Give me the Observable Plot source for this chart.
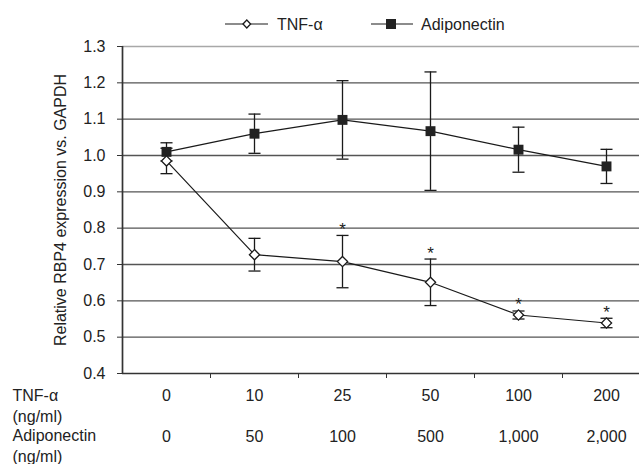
<!DOCTYPE html>
<html><head><meta charset="utf-8">
<script src="https://cdn.jsdelivr.net/npm/d3@7"></script>
<script src="https://cdn.jsdelivr.net/npm/@observablehq/plot@0.6"></script>
<style>
body{margin:0;background:#fff;font-family:"Liberation Sans",Arial,Helvetica,sans-serif;color:#222;}
#legend{display:block;}
</style></head><body>
<div id="legend"></div>
<div id="chart"></div>
<script>
// ---- data ----
const tnfDoses = ["0", "10", "25", "50", "100", "200"];
const adipoDoses = ["0", "50", "100", "500", "1,000", "2,000"];
const tnfMean = [0.985, 0.727, 0.708, 0.651, 0.561, 0.539];
const tnfErr = [0.035, 0.045, 0.072, 0.064, 0.011, 0.013];
const adipoMean = [1.010, 1.060, 1.098, 1.067, 1.016, 0.970];
const adipoErr = [0.025, 0.054, 0.108, 0.163, 0.062, 0.047];
const tnfSignificant = [false, false, true, true, true, true];
const yTicks = [0.4, 0.5, 0.6, 0.7, 0.8, 0.9, 1.0, 1.1, 1.2, 1.3];
const seriesNames = ["TNF-\u03b1", "Adiponectin"];

// ---- build table ----
const n = tnfDoses.length;
const rows = tnfDoses.map((d, i) => ({
  pos: i + 0.5,
  tnfDose: d, adipoDose: adipoDoses[i],
  tnf: tnfMean[i], tnfLo: tnfMean[i] - tnfErr[i], tnfHi: tnfMean[i] + tnfErr[i],
  adipo: adipoMean[i], adipoLo: adipoMean[i] - adipoErr[i], adipoHi: adipoMean[i] + adipoErr[i],
  sig: tnfSignificant[i]
}));

// error-bar cap symbol (horizontal stroke)
const capSymbol = {draw(ctx, size) { const w = Math.sqrt(size) / 2; ctx.moveTo(-w, 0); ctx.lineTo(w, 0); }};
const ink = "#1a1a1a";

// ---- legend (separate strip above the chart) ----
document.getElementById("legend").innerHTML =
  `<svg width="639" height="40" style="display:block" font-family='"Liberation Sans", Arial, sans-serif' font-size="16" fill="#222">` +
  `<line x1="225" x2="268" y1="24" y2="24" stroke="${ink}" stroke-width="1.2"/>` +
  `<path d="M243,24L246.8,20L250.6,24L246.8,28Z" fill="white" stroke="${ink}" stroke-width="1.3"/>` +
  `<text x="277" y="29.5">${seriesNames[0]}</text>` +
  `<line x1="371" x2="413" y1="24" y2="24" stroke="${ink}" stroke-width="1.2"/>` +
  `<rect x="386" y="19" width="10" height="10" fill="#222"/>` +
  `<text x="421" y="29.5">${seriesNames[1]}</text></svg>`;

// ---- chart ----
const chart = Plot.plot({
  width: 639, height: 424,
  marginTop: 6, marginBottom: 91, marginLeft: 122, marginRight: 0,
  x: {domain: [0, n], range: [122, 650]},
  y: {domain: [0.4, 1.3]},
  style: {fontFamily: '"Liberation Sans", Arial, Helvetica, sans-serif', fontSize: "16px", color: "#222", background: "white", overflow: "visible"},
  marks: [
    Plot.ruleY(yTicks.filter(v => v > 0.45 && v < 1.25), {stroke: "#555", strokeWidth: 1.4}),
    Plot.ruleY([1.3], {stroke: "#a8a8a8", strokeWidth: 1.4}),
    Plot.ruleY([0.4], {stroke: "#333", strokeWidth: 1.7}),
    Plot.ruleX([0], {stroke: "#333", strokeWidth: 1.7}),
    Plot.axisY({ticks: yTicks, tickSize: 5, tickPadding: 12, tickFormat: d3.format(".1f"), stroke: "#333", fontSize: 16,
      label: "Relative RBP4 expression vs. GAPDH", labelAnchor: "center", labelArrow: "none", labelOffset: 68}),
    Plot.axisX({ticks: d3.range(1, n + 1), tickSize: 5, tickFormat: () => "", label: null, stroke: "#333"}),
    // category labels
    Plot.text(rows, {x: "pos", text: "tnfDose", frameAnchor: "bottom", dy: 27, fontSize: 16}),
    Plot.text(rows, {x: "pos", text: "adipoDose", frameAnchor: "bottom", dy: 68, fontSize: 16}),
    Plot.text([`${seriesNames[0]}\n(ng/ml)`], {frameAnchor: "bottom-left", dx: -110, dy: 48.5, textAnchor: "start", lineHeight: 1.3, fontSize: 16}),
    Plot.text([`${seriesNames[1]}\n(ng/ml)`], {frameAnchor: "bottom-left", dx: -110, dy: 88.5, textAnchor: "start", lineHeight: 1.3, fontSize: 16}),
    // adiponectin series
    Plot.line(rows, {x: "pos", y: "adipo", stroke: ink, strokeWidth: 1.2}),
    Plot.ruleX(rows, {x: "pos", y1: "adipoLo", y2: "adipoHi", stroke: ink, strokeWidth: 1.3}),
    Plot.dot(rows, {x: "pos", y: "adipoLo", symbol: capSymbol, r: 6.8, stroke: ink, strokeWidth: 1.3}),
    Plot.dot(rows, {x: "pos", y: "adipoHi", symbol: capSymbol, r: 6.8, stroke: ink, strokeWidth: 1.3}),
    // TNF series
    Plot.line(rows, {x: "pos", y: "tnf", stroke: ink, strokeWidth: 1.2}),
    Plot.ruleX(rows, {x: "pos", y1: "tnfLo", y2: "tnfHi", stroke: ink, strokeWidth: 1.3}),
    Plot.dot(rows, {x: "pos", y: "tnfLo", symbol: capSymbol, r: 6.8, stroke: ink, strokeWidth: 1.3}),
    Plot.dot(rows, {x: "pos", y: "tnfHi", symbol: capSymbol, r: 6.8, stroke: ink, strokeWidth: 1.3}),
    Plot.dot(rows, {x: "pos", y: "adipo", symbol: "square", r: 5.6, fill: "#222", stroke: "none"}),
    Plot.dot(rows, {x: "pos", y: "tnf", symbol: "diamond2", r: 4.6, fill: "white", stroke: ink, strokeWidth: 1.3}),
    Plot.text(rows.filter(d => d.sig), {x: "pos", y: "tnfHi", text: () => "*", dy: -6, fontSize: 17})
  ]
});
document.getElementById("chart").appendChild(chart);
</script>
</body></html>
